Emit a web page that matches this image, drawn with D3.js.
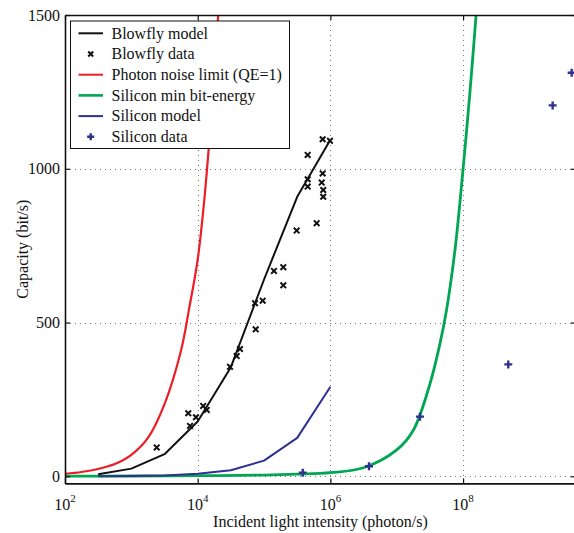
<!DOCTYPE html>
<html>
<head>
<meta charset="utf-8">
<script src="https://cdn.jsdelivr.net/npm/d3@7"></script>
<style>
  body { margin: 0; background: #fff; }
  text { font-family: "Liberation Serif", "Times New Roman", serif; }
</style>
</head>
<body>
<svg id="chart" width="574" height="533"></svg>
<script>
// ---- Data ----
// Blowfly model (photon/s -> bit/s)
const blowflyModelI = [316, 1000, 3162, 10000, 31623, 100000, 316228, 1000000];
const blowflyModelC = [7, 25, 72, 178, 355, 640, 909, 1094];

// Blowfly data
const blowflyDataI = [2410, 7210, 7660, 9420, 12100, 13700, 30700, 38700, 43400, 73100, 74900, 95500,
  141000, 195000, 195000, 310000, 455000, 455000, 455000, 621000, 765000, 986000, 765000, 740000, 780000, 780000];
const blowflyDataC = [94, 205, 164, 192, 229, 216, 356, 391, 414, 563, 478, 571,
  668, 680, 621, 799, 1045, 966, 942, 823, 1096, 1091, 985, 955, 931, 909];

// Photon noise limit (QE=1)
const photonI = [100, 178, 316, 562, 1000, 1778, 3162, 5623, 7499, 10000, 12589, 15849, 19953, 22387];
const photonC = [8, 14, 24, 40, 70, 125, 235, 410, 550, 705, 900, 1160, 1470, 1640];

// Silicon min bit-energy
const siMinI = [100, 1000, 10000, 100000, 316228, 1000000, 3162278, 10000000, 17782794, 31622777, 44668359, 56234133, 75857758, 100000000, 125892541, 158489319];
const siMinC = [0.5, 1, 2, 4, 7, 12, 28, 86, 150, 300, 430, 540, 740, 1000, 1240, 1510];

// Silicon model
const siModelI = [316, 1000, 3162, 10000, 31623, 100000, 316228, 1000000];
const siModelC = [0, 1, 3, 8, 20, 51, 125, 291];

// Silicon data
const siDataI = [383000, 3820000, 22400000, 480000000, 2240000000, 4330000000];
const siDataC = [12, 33, 194, 364, 1206, 1312];

// Axis ticks
const xTicks = [1e2, 1e4, 1e6, 1e8];
const xTickExp = ["2", "4", "6", "8"];
const yTicks = [0, 500, 1000, 1500];

const legendLabels = ["Blowfly model", "Blowfly data", "Photon noise limit (QE=1)",
  "Silicon min bit-energy", "Silicon model", "Silicon data"];

// ---- Layout ----
const svg = d3.select("#chart");
const L = 65, R = 575.8, T = 15, B = 483.4;
const x = d3.scaleLog().domain([1e2, 5e9]).range([L, R]);
const y = d3.scaleLinear().domain([-23, 1500]).range([B, T]);

const C = { black: "#111", red: "#ee1c25", green: "#00a651", blue: "#2e3192" };

svg.append("rect").attr("width", 574).attr("height", 533).attr("fill", "#fff");

svg.append("defs").append("clipPath").attr("id", "clip")
  .append("rect").attr("x", L).attr("y", T).attr("width", R - L).attr("height", B - T);

// grid
const grid = svg.append("g").attr("stroke", "#777").attr("stroke-width", 1).attr("stroke-dasharray", "1,4");
grid.selectAll(".gx").data(xTicks.slice(1)).join("line")
  .attr("x1", d => Math.round(x(d)) + 0.5).attr("x2", d => Math.round(x(d)) + 0.5)
  .attr("y1", T).attr("y2", B);
grid.selectAll(".gy").data(yTicks.slice(0, 3)).join("line")
  .attr("y1", d => Math.round(y(d)) + 0.5).attr("y2", d => Math.round(y(d)) + 0.5)
  .attr("x1", L).attr("x2", R);

// lines
const plot = svg.append("g").attr("clip-path", "url(#clip)");
function drawLine(I, Cv, color, width, curve) {
  const pts = I.map((d, i) => [d, Cv[i]]);
  const gen = d3.line().x(d => x(d[0])).y(d => y(d[1])).curve(curve || d3.curveLinear);
  plot.append("path").attr("d", gen(pts)).attr("fill", "none")
    .attr("stroke", color).attr("stroke-width", width).attr("stroke-linejoin", "round");
}
drawLine(photonI, photonC, C.red, 2.2, d3.curveCatmullRom.alpha(0.5));
drawLine(siMinI, siMinC, C.green, 2.8, d3.curveCatmullRom.alpha(0.5));
drawLine(siModelI, siModelC, C.blue, 2);
drawLine(blowflyModelI, blowflyModelC, C.black, 2);

function xMark(g, cx, cy, s, color) {
  g.append("path").attr("d", `M${cx - s},${cy - s}L${cx + s},${cy + s}M${cx - s},${cy + s}L${cx + s},${cy - s}`)
    .attr("stroke", color).attr("stroke-width", 2).attr("fill", "none");
}
function plusMark(g, cx, cy, s, color) {
  g.append("path").attr("d", `M${cx - s},${cy}L${cx + s},${cy}M${cx},${cy - s}L${cx},${cy + s}`)
    .attr("stroke", color).attr("stroke-width", 2.4).attr("fill", "none");
}
const marks = svg.append("g");
blowflyDataI.forEach((d, i) => xMark(marks, x(d), y(blowflyDataC[i]), 2.8, C.black));
siDataI.forEach((d, i) => plusMark(marks, x(d), y(siDataC[i]), 4, C.blue));

// axes
const axFont = 16;
const gl = svg.append("g").attr("transform", `translate(${L},0)`)
  .call(d3.axisLeft(y).tickValues(yTicks).tickSize(-5).tickSizeOuter(0).tickPadding(5).tickFormat(d3.format("d")));
const gb = svg.append("g").attr("transform", `translate(0,${B})`)
  .call(d3.axisBottom(x).tickValues(xTicks).tickSize(-5).tickSizeOuter(0).tickFormat(""));
const gt = svg.append("g").attr("transform", `translate(0,${T})`)
  .call(d3.axisTop(x).tickValues(xTicks).tickSize(-5).tickSizeOuter(0).tickFormat(""));
const gr = svg.append("g").attr("transform", `translate(${R},0)`)
  .call(d3.axisRight(y).tickValues(yTicks).tickSize(-5).tickSizeOuter(0).tickFormat(""));
[gl, gb, gt, gr].forEach(g => {
  g.attr("font-family", null);
  g.selectAll("path.domain").attr("stroke", "#111").attr("stroke-width", 1.6);
  g.selectAll(".tick line").attr("stroke", "#111").attr("stroke-width", 1.2);
  g.selectAll("text").attr("font-family", "Liberation Serif, serif").attr("font-size", axFont).attr("fill", "#111");
});

// x tick labels with superscripts
const xl = svg.append("g");
xTicks.forEach((d, i) => {
  const t = xl.append("text").attr("x", x(d)).attr("y", 510).attr("text-anchor", "middle")
    .attr("font-size", axFont).attr("fill", "#111");
  t.append("tspan").text("10");
  t.append("tspan").attr("dy", -8).attr("font-size", 11).text(xTickExp[i]);
});

// axis titles
svg.append("text").attr("x", (L + R) / 2).attr("y", 527).attr("text-anchor", "middle")
  .attr("font-size", 16).attr("fill", "#111").text("Incident light intensity (photon/s)");
svg.append("text").attr("transform", `translate(28,${(T + B) / 2}) rotate(-90)`).attr("text-anchor", "middle")
  .attr("font-size", 16).attr("fill", "#111").text("Capacity (bit/s)");

// legend
const lg = svg.append("g");
lg.append("rect").attr("x", 70.5).attr("y", 21).attr("width", 219).attr("height", 127.5)
  .attr("fill", "#fff").attr("stroke", "#111").attr("stroke-width", 1);
const legendStyle = [
  { type: "line", color: C.black }, { type: "x", color: C.black }, { type: "line", color: C.red },
  { type: "line", color: C.green }, { type: "line", color: C.blue }, { type: "plus", color: C.blue }
];
legendLabels.forEach((lab, i) => {
  const yy = 33.3 + i * 20.7;
  const s = legendStyle[i];
  if (s.type === "line") {
    lg.append("line").attr("x1", 78.5).attr("x2", 103).attr("y1", yy).attr("y2", yy)
      .attr("stroke", s.color).attr("stroke-width", i === 3 ? 2.6 : 2);
  } else if (s.type === "x") {
    xMark(lg, 90.7, yy, 2.5, s.color);
  } else {
    plusMark(lg, 90.7, yy, 3.5, s.color);
  }
  lg.append("text").attr("x", 111.5).attr("y", yy).attr("dy", "0.33em")
    .attr("font-size", 16).attr("fill", "#111").text(lab);
});
</script>
</body>
</html>
